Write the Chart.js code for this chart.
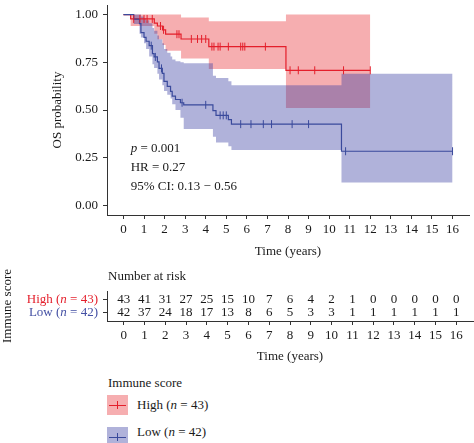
<!DOCTYPE html>
<html><head><meta charset="utf-8">
<script src="https://cdn.jsdelivr.net/npm/chart.js@4.4.1/dist/chart.umd.min.js"></script>
<style>
html,body{margin:0;padding:0;background:#fff;}
#wrap{position:relative;width:474px;height:443px;overflow:hidden;font-family:"Liberation Serif","Times New Roman",serif;color:#1a1a1a;}
canvas{position:absolute;left:0;}
#c1{top:0;width:474px;height:262px;}
#c2{top:262px;width:474px;height:103px;}
.lg{position:absolute;font-size:13px;line-height:16px;white-space:nowrap;}
.key{position:absolute;left:107px;width:21px;height:20px;}
.key .h{position:absolute;left:2px;right:2px;top:9.5px;height:1px;}
.key .v{position:absolute;left:10px;width:1px;top:6px;height:8px;}
</style></head>
<body><div id="wrap">
<canvas id="c1" width="474" height="262"></canvas>
<canvas id="c2" width="474" height="103"></canvas>
<div class="lg" style="left:108px;top:375px;">Immune score</div>
<div class="key" style="top:395px;background:rgba(232,52,57,0.4);"><div class="h" style="background:#e41f2b"></div><div class="v" style="background:#e41f2b"></div></div>
<div class="lg" style="left:137px;top:397px;">High (<i>n</i> = 43)</div>
<div class="key" style="top:427px;background:rgba(57,62,162,0.4);"><div class="h" style="background:#3a4a9c"></div><div class="v" style="background:#3a4a9c"></div></div>
<div class="lg" style="left:137px;top:424px;">Low (<i>n</i> = 42)</div>
</div>
<script>
// ---------------- data ----------------
const xTicks = [0,1,2,3,4,5,6,7,8,9,10,11,12,13,14,15,16];
const yTicks = [0, 0.25, 0.5, 0.75, 1.0];

// High immune score: KM step curve
const highTime = [0, 0.35, 1.5, 1.65, 1.9, 2.05, 2.8, 4.15, 7.9, 12.0];
const highSurv = [1, 0.977, 0.955, 0.94, 0.92, 0.897, 0.872, 0.832, 0.708, 0.708];
const highUpper = [1, 1, 1, 1, 1, 1, 0.985, 0.965, 1, 1];
const highLower = [1, 0.94, 0.90, 0.87, 0.84, 0.81, 0.77, 0.715, 0.51, 0.51];
const highCensor = [0.5, 0.8, 1.0, 1.15, 1.4, 1.8, 1.95, 2.6, 2.7, 3.3, 3.6, 3.8, 4.0, 4.3, 4.4, 4.6, 4.7, 5.1, 5.7, 5.8, 5.9, 6.9, 8.1, 8.5, 9.3, 10.7, 12.0];

// Low immune score: KM step curve
const lowTime = [0, 0.5, 0.78, 0.85, 1.0, 1.1, 1.25, 1.41, 1.49, 1.65, 1.73, 1.89, 1.97, 2.13, 2.29, 2.37, 2.53, 2.77, 2.93, 4.35, 4.5, 5.1, 5.25, 10.6, 16];
const lowSurv = [1, 0.976, 0.952, 0.905, 0.88, 0.86, 0.837, 0.795, 0.778, 0.752, 0.718, 0.692, 0.65, 0.624, 0.598, 0.573, 0.555, 0.538, 0.527, 0.497, 0.472, 0.45, 0.426, 0.284, 0.284];
const lowUpper = [1, 1, 1, 0.99, 0.98, 0.97, 0.955, 0.93, 0.915, 0.89, 0.87, 0.85, 0.82, 0.80, 0.78, 0.765, 0.755, 0.75, 0.745, 0.68, 0.667, 0.65, 0.63, 0.69, 0.69];
const lowLower = [1, 0.95, 0.90, 0.88, 0.85, 0.82, 0.78, 0.74, 0.72, 0.69, 0.66, 0.63, 0.60, 0.58, 0.56, 0.53, 0.50, 0.46, 0.40, 0.36, 0.33, 0.31, 0.29, 0.12, 0.12];
const lowCensor = [1.35, 1.55, 1.85, 2.85, 4.0, 4.7, 4.85, 5.0, 5.7, 6.2, 6.8, 7.2, 8.2, 9.0, 10.8, 16.0];

// Number at risk
const riskHigh = [43,41,31,27,25,15,10,7,6,4,2,1,0,0,0,0,0];
const riskLow  = [42,37,24,18,17,13,8,6,5,3,3,1,1,1,1,1,1];
const groupNames = ['High', 'Low'];
const groupN = [43, 42];

// statistics annotation
const statP = '0.001', statHR = '0.27', statCI = '0.13 − 0.56';
const annotX = 0.35, annotY = [0.30, 0.20, 0.10];

// ---------------- styles ----------------
const FONT = '"Liberation Serif","Times New Roman",serif';
const RED = '#e41f2b', BLUE = '#3a4a9c';
const PINK = 'rgba(232,52,57,0.4)', LAV = 'rgba(57,62,162,0.4)';
const TXT = '#1a1a1a', AX = '#333333';

function survAt(ts, vs, t){ let s = vs[0]; for (let i=0;i<ts.length;i++){ if (ts[i] <= t + 1e-9) s = vs[i]; } return s; }
const pts = (ts, vs) => ts.map((t,i)=>({x:t, y:vs[i]}));
const cpts = (cs, ts, vs) => cs.map(t=>({x:t, y:survAt(ts, vs, t)}));

const axisCommon = {
  grid: {drawOnChartArea:false, drawTicks:true, tickLength:4, color:AX, lineWidth:1},
  border: {display:true, color:AX, width:1}
};

const annotPlugin = {
  id:'annot',
  afterDatasetsDraw(chart){
    const {ctx, scales:{x,y}} = chart;
    ctx.save();
    ctx.fillStyle = TXT; ctx.textBaseline = 'middle'; ctx.textAlign = 'left';
    const x0 = x.getPixelForValue(annotX);
    ctx.font = 'italic 13px ' + FONT;
    ctx.fillText('p', x0, y.getPixelForValue(annotY[0]));
    const wp = ctx.measureText('p').width;
    ctx.font = '13px ' + FONT;
    ctx.fillText(' = ' + statP, x0 + wp, y.getPixelForValue(annotY[0]));
    ctx.fillText('HR = ' + statHR, x0, y.getPixelForValue(annotY[1]));
    ctx.fillText('95% CI: ' + statCI, x0, y.getPixelForValue(annotY[2]));
    ctx.restore();
  }
};

new Chart(document.getElementById('c1'), {
  type:'line',
  data:{datasets:[
    {data:pts(highTime, highUpper), stepped:true, borderWidth:0, borderColor:'transparent', pointRadius:0, fill:'+1', backgroundColor:PINK, order:4},
    {data:pts(highTime, highLower), stepped:true, borderWidth:0, borderColor:'transparent', pointRadius:0, fill:false, order:4},
    {data:pts(lowTime, lowUpper), stepped:true, borderWidth:0, borderColor:'transparent', pointRadius:0, fill:'+1', backgroundColor:LAV, order:3},
    {data:pts(lowTime, lowLower), stepped:true, borderWidth:0, borderColor:'transparent', pointRadius:0, fill:false, order:3},
    {data:pts(highTime, highSurv), stepped:true, borderWidth:1.2, borderColor:RED, pointRadius:0, fill:false, order:2},
    {data:pts(lowTime, lowSurv), stepped:true, borderWidth:1.2, borderColor:BLUE, pointRadius:0, fill:false, order:1},
    {data:cpts(highCensor, highTime, highSurv), showLine:false, pointStyle:'line', rotation:90, pointRadius:4, borderWidth:1, borderColor:RED, order:0},
    {data:cpts(lowCensor, lowTime, lowSurv), showLine:false, pointStyle:'line', rotation:90, pointRadius:4, borderWidth:1, borderColor:BLUE, order:0}
  ]},
  options:{
    responsive:false, animation:false, events:[],
    layout:{padding:{left:0, right:1, top:0, bottom:0}},
    plugins:{legend:{display:false}, tooltip:{enabled:false}},
    scales:{
      x:{type:'linear', min:-0.8, max:16.8, ...axisCommon,
        afterBuildTicks:s=>{ s.ticks = xTicks.map(v=>({value:v})); },
        afterFit:s=>{ s.height = 47; s.paddingLeft = 0; s.paddingRight = 0; },
        ticks:{font:{family:FONT, size:13}, color:TXT, padding:3, maxRotation:0, autoSkip:false, callback:v=>String(v)},
        title:{display:true, text:'Time (years)', font:{family:FONT, size:13}, color:TXT, padding:{top:0, bottom:3}}
      },
      y:{type:'linear', min:-0.05, max:1.05, ...axisCommon,
        afterBuildTicks:s=>{ s.ticks = yTicks.map(v=>({value:v})); },
        afterFit:s=>{ s.width = 107; s.paddingTop = 0; s.paddingBottom = 0; },
        ticks:{font:{family:FONT, size:13}, color:TXT, padding:5, callback:v=>Number(v).toFixed(2)},
        title:{display:true, text:'OS probability', font:{family:FONT, size:13}, color:TXT, padding:{top:50, bottom:0}}
      }
    }
  },
  plugins:[annotPlugin]
});

// ---------------- risk table ----------------
const riskPlugin = {
  id:'risk',
  afterDatasetsDraw(chart){
    const {ctx, chartArea, scales:{y}} = chart;
    ctx.save();
    ctx.textBaseline = 'middle';
    ctx.font = '13px ' + FONT; ctx.fillStyle = TXT; ctx.textAlign = 'left';
    ctx.fillText('Number at risk', chartArea.left + 1, chartArea.top - 14);
    const tables = [riskHigh, riskLow];
    ctx.textAlign = 'center';
    chart.data.datasets.forEach((ds, di) => {
      const meta = chart.getDatasetMeta(di);
      meta.data.forEach((el, i) => { ctx.fillText(String(tables[di][i]), el.x, el.y); });
    });
    // row labels
    const rows = [2, 1], cols = [RED, '#4450a4'];
    groupNames.forEach((g, gi) => {
      const yy = y.getPixelForValue(rows[gi]);
      const parts = [[g + ' (', false], ['n', true], [' = ' + groupN[gi] + ')', false]];
      let w = 0;
      parts.forEach(p => { ctx.font = (p[1] ? 'italic ' : '') + '13px ' + FONT; w += ctx.measureText(p[0]).width; });
      let xx = chartArea.left - 9 - w;
      ctx.textAlign = 'left'; ctx.fillStyle = cols[gi];
      parts.forEach(p => { ctx.font = (p[1] ? 'italic ' : '') + '13px ' + FONT; ctx.fillText(p[0], xx, yy); xx += ctx.measureText(p[0]).width; });
    });
    ctx.restore();
  }
};

new Chart(document.getElementById('c2'), {
  type:'line',
  data:{datasets:[
    {data:xTicks.map(t=>({x:t, y:2})), showLine:false, pointRadius:0},
    {data:xTicks.map(t=>({x:t, y:1})), showLine:false, pointRadius:0}
  ]},
  options:{
    responsive:false, animation:false, events:[],
    layout:{padding:{left:0, right:1, top:29, bottom:0}},
    plugins:{legend:{display:false}, tooltip:{enabled:false}},
    scales:{
      x:{type:'linear', min:-0.8, max:16.8, ...axisCommon,
        afterBuildTicks:s=>{ s.ticks = xTicks.map(v=>({value:v})); },
        afterFit:s=>{ s.height = 44; s.paddingLeft = 0; s.paddingRight = 0; },
        ticks:{font:{family:FONT, size:13}, color:TXT, padding:3, maxRotation:0, autoSkip:false, callback:v=>String(v)},
        title:{display:true, text:'Time (years)', font:{family:FONT, size:13}, color:TXT, padding:{top:0, bottom:1}}
      },
      y:{type:'linear', min:0.4, max:2.6, ...axisCommon,
        afterBuildTicks:s=>{ s.ticks = [{value:1},{value:2}]; },
        afterFit:s=>{ s.width = 107; s.paddingTop = 0; s.paddingBottom = 0; },
        ticks:{font:{family:FONT, size:13}, color:TXT, padding:5, callback:()=>''},
        title:{display:true, text:'Immune score', font:{family:FONT, size:13}, color:TXT, padding:{top:0, bottom:0}}
      }
    }
  },
  plugins:[riskPlugin]
});
</script>
</body></html>
